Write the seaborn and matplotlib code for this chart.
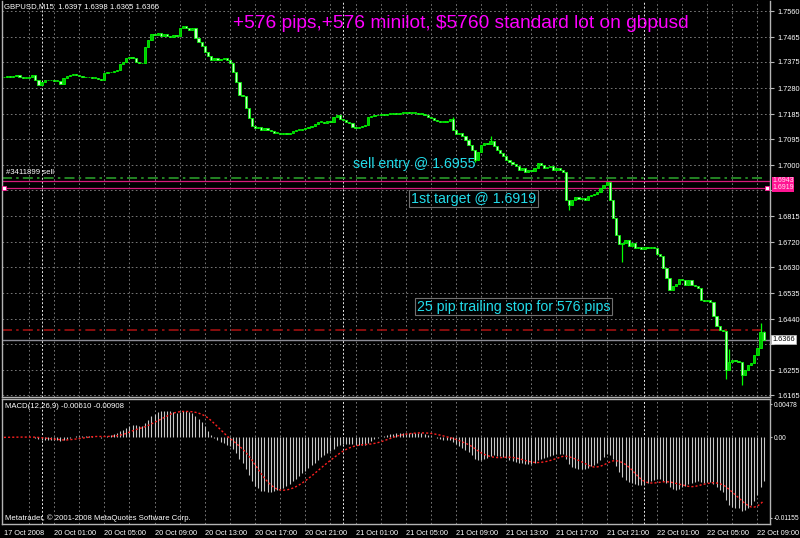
import matplotlib
matplotlib.use("Agg")
import matplotlib.pyplot as plt
import seaborn as sns
import pandas as pd
import numpy as np

# GBPUSD M15 closes, 17 Oct 21:00 .. 22 Oct 09:30
closes = [
    1.7320, 1.7324, 1.7320, 1.7324, 1.7328, 1.7320, 1.7317, 1.7317, 1.7320, 1.7328,
    1.7309, 1.7291, 1.7302, 1.7309, 1.7309, 1.7309, 1.7306, 1.7306, 1.7295, 1.7317,
    1.7324, 1.7328, 1.7331, 1.7328, 1.7324, 1.7320, 1.7320, 1.7320, 1.7317, 1.7317,
    1.7313, 1.7309, 1.7335, 1.7338, 1.7338, 1.7342, 1.7346, 1.7368, 1.7375, 1.7389,
    1.7393, 1.7389, 1.7375, 1.7371, 1.7371, 1.7429, 1.7455, 1.7476, 1.7473, 1.7480,
    1.7469, 1.7476, 1.7469, 1.7466, 1.7473, 1.7469, 1.7498, 1.7506, 1.7498, 1.7491,
    1.7498, 1.7462, 1.7447, 1.7433, 1.7411, 1.7397, 1.7382, 1.7389, 1.7382, 1.7386,
    1.7389, 1.7382, 1.7371, 1.7338, 1.7302, 1.7255, 1.7251, 1.7208, 1.7171, 1.7142,
    1.7135, 1.7139, 1.7128, 1.7135, 1.7128, 1.7124, 1.7117, 1.7117, 1.7113, 1.7117,
    1.7113, 1.7117, 1.7124, 1.7128, 1.7128, 1.7131, 1.7135, 1.7139, 1.7142, 1.7150,
    1.7157, 1.7157, 1.7153, 1.7160, 1.7157, 1.7175, 1.7182, 1.7168, 1.7164, 1.7157,
    1.7153, 1.7139, 1.7135, 1.7139, 1.7142, 1.7146, 1.7175, 1.7179, 1.7182, 1.7182,
    1.7186, 1.7182, 1.7186, 1.7186, 1.7190, 1.7186, 1.7190, 1.7190, 1.7193, 1.7190,
    1.7190, 1.7190, 1.7186, 1.7186, 1.7182, 1.7175, 1.7171, 1.7164, 1.7160, 1.7157,
    1.7157, 1.7160, 1.7168, 1.7128, 1.7113, 1.7117, 1.7106, 1.7091, 1.7073, 1.7055,
    1.7019, 1.7048, 1.7073, 1.7081, 1.7077, 1.7088, 1.7070, 1.7055, 1.7044, 1.7033,
    1.7019, 1.7012, 1.7004, 1.6997, 1.6983, 1.6990, 1.6975, 1.6983, 1.6979, 1.6990,
    1.7008, 1.7001, 1.6990, 1.6993, 1.6997, 1.6983, 1.6990, 1.6983, 1.6975, 1.6874,
    1.6855, 1.6874, 1.6884, 1.6877, 1.6881, 1.6874, 1.6888, 1.6892, 1.6895, 1.6903,
    1.6917, 1.6928, 1.6939, 1.6874, 1.6808, 1.6746, 1.6714, 1.6717, 1.6728, 1.6707,
    1.6717, 1.6699, 1.6703, 1.6696, 1.6703, 1.6699, 1.6703, 1.6699, 1.6677, 1.6670,
    1.6627, 1.6590, 1.6547, 1.6561, 1.6568, 1.6587, 1.6583, 1.6565, 1.6583, 1.6565,
    1.6561, 1.6554, 1.6510, 1.6507, 1.6510, 1.6503, 1.6452, 1.6416, 1.6401, 1.6398,
    1.6256, 1.6285, 1.6292, 1.6289, 1.6285, 1.6238, 1.6256, 1.6274, 1.6282, 1.6311,
    1.6336, 1.6397, 1.6366,
]
# a few visible wicks beyond the bodies
highs_extra = {143: 1.7175, 155: 1.7106, 231: 1.6332, 241: 1.6427}
lows_extra = {150: 1.7012, 180: 1.6837, 197: 1.6648, 230: 1.6224, 235: 1.6202}

price_ticks = [1.7560, 1.7465, 1.7375, 1.7280, 1.7185, 1.7095, 1.7000, 1.6910,
               1.6815, 1.6720, 1.6630, 1.6535, 1.6440, 1.6350, 1.6255, 1.6165]
# these two labels sit behind the price boxes on the right
hidden_ticks = [1.6910, 1.6350]
time_tick_bars = [0, 16, 32, 48, 64, 80, 96, 112, 128, 144, 160, 176, 192, 208, 224, 240]
time_labels = ["17 Oct 2008", "20 Oct 01:00", "20 Oct 05:00", "20 Oct 09:00",
               "20 Oct 13:00", "20 Oct 17:00", "20 Oct 21:00", "21 Oct 01:00",
               "21 Oct 05:00", "21 Oct 09:00", "21 Oct 13:00", "21 Oct 17:00",
               "21 Oct 21:00", "22 Oct 01:00", "22 Oct 05:00", "22 Oct 09:00"]
day_breaks = [12, 108, 204]
macd_ticks = [0.00478, 0.0, -0.01155]
macd_tick_labels = ["0.00478", "0.00", "-0.01155"]

entry_price = 1.6955
order_prices = [1.6943, 1.6919]
stop_price = 1.6403
last_price = 1.6366

sns.set_style("dark", {"axes.facecolor": "black", "figure.facecolor": "black"})
plt.rcParams["font.family"] = ["Liberation Sans", "DejaVu Sans"]

df = pd.DataFrame({"close": closes})
df["open"] = df["close"].shift(1).fillna(df["close"])
df["high"] = df[["open", "close"]].max(axis=1)
df["low"] = df[["open", "close"]].min(axis=1)
for k, v in highs_extra.items():
    df.loc[k, "high"] = v
for k, v in lows_extra.items():
    df.loc[k, "low"] = v
df["bar"] = np.arange(len(df))

# MACD(12,26,9)
ema12 = df["close"].ewm(span=12, adjust=False).mean()
ema26 = df["close"].ewm(span=26, adjust=False).mean()
df["macd"] = ema12 - ema26
df["signal"] = df["macd"].rolling(9, min_periods=1).mean()

fig = plt.figure(figsize=(8, 5.38), dpi=100, facecolor="black")
ax = fig.add_axes([2 / 800, 141 / 538, 768 / 800, 396 / 538])
ax2 = fig.add_axes([2 / 800, 14 / 538, 768 / 800, 125 / 538])
xmin, xmax = -0.6, 244.0
grid_kw = dict(color="#8a8a8a", lw=0.6, ls=(0, (2, 3)))
sep_kw = dict(color="#e8e8e8", lw=0.7, ls=(0, (2, 2)))
lbl = 5.3

for a in (ax, ax2):
    a.set_facecolor("black")
    a.set_xlim(xmin, xmax)
    for b in range(8, 243, 8):
        a.axvline(b, zorder=0.5, **grid_kw)
    for b in day_breaks:
        a.axvline(b, zorder=0.6, **sep_kw)
    for s in a.spines.values():
        s.set_color("#b4b4b4")
        s.set_linewidth(1.0)

# ---- price panel
ax.spines["top"].set_visible(False)
ax.set_ylim(1.61581, 1.75964)
ax.set_yticks(price_ticks)
ax.set_yticklabels(["" if p in hidden_ticks else f"{p:.4f}" for p in price_ticks])
ax.yaxis.tick_right()
ax.tick_params(axis="y", colors="#b4b4b4", labelcolor="white", labelsize=lbl,
               length=3, width=0.8, pad=2)
ax.tick_params(axis="x", bottom=False, labelbottom=False)
ax.grid(axis="y", **grid_kw)
ax.grid(axis="x", visible=False)

bull = df["close"] >= df["open"]
ax.vlines(df["bar"], df["low"], df["high"], color="#00ff00", lw=0.9, zorder=3)
body = np.maximum((df["close"] - df["open"]).abs(), 0.00028)
ax.bar(df["bar"], body, bottom=df[["open", "close"]].min(axis=1) - 0.0001, width=0.72,
       color=np.where(bull, "#00c800", "#c8ffc8"), edgecolor="#00ff00",
       linewidth=0.55, zorder=4)

ax.axhline(entry_price, xmax=0.993, color="#2a9a2a", lw=1.2, ls=(0, (6, 2.5, 1.5, 2.5)), zorder=2)
for p in order_prices:
    ax.axhline(p, color="#d81b7a", lw=0.9, zorder=2)
ax.axhline(stop_price, xmax=0.995, color="#a01010", lw=1.2, ls=(0, (6, 2.5, 1.5, 2.5)), zorder=2)
ax.axhline(last_price, color="#8c8c96", lw=1.0, zorder=2)
ax.plot([0.003, 0.996], [order_prices[1]] * 2, ls="none", marker="s", ms=2.6,
        mfc="white", mec="#ff1493", mew=0.6, transform=ax.get_yaxis_transform(),
        clip_on=False, zorder=6)

ytr = ax.get_yaxis_transform()
for p, dy in zip(order_prices, [0.00012, -0.00010]):
    ax.text(1.003, p + dy, f"{p:.4f}", transform=ytr, ha="left", va="center", size=5.0,
            color="#ffe0f0", clip_on=False, zorder=7,
            bbox=dict(boxstyle="square,pad=0.08", fc="#ff1493", ec="none"))
ax.text(1.003, last_price, f"{last_price:.4f}", transform=ytr, ha="left", va="center",
        size=lbl, color="black", clip_on=False, zorder=7,
        bbox=dict(boxstyle="square,pad=0.15", fc="white", ec="#c0c0c0", lw=0.5))

# ---- MACD panel
ax2.set_ylim(-0.01241, 0.00550)
ax2.vlines(df["bar"], 0, df["macd"], color="#c8c8c8", lw=0.8, zorder=2)
sns.lineplot(x=df["bar"], y=df["signal"], ax=ax2, color="#ff2020", lw=1.0,
             ls=(0, (1.5, 1.5)), zorder=3)
ax2.set_xlabel("")
ax2.set_ylabel("")
ax2.set_yticks(macd_ticks)
ax2.set_yticklabels(macd_tick_labels)
ax2.yaxis.tick_right()
ax2.tick_params(axis="y", colors="#b4b4b4", labelcolor="white", labelsize=4.8,
                length=1.5, width=0.8, pad=1.0)
ax2.set_xticks(time_tick_bars)
ax2.set_xticklabels(time_labels, ha="left")
ax2.tick_params(axis="x", colors="#b4b4b4", labelcolor="white", labelsize=lbl,
                length=3, width=0.8, pad=1.5)
ax2.grid(False)

# ---- texts
small = dict(color="white", size=5.6, va="center")
fig.text(4 / 800, 1 - 7 / 538, "GBPUSD,M15  1.6397 1.6398 1.6365 1.6366", **small)
fig.text(6 / 800, 1 - 173 / 538, "#3411899 sell", **small)
fig.text(5 / 800, 1 - 406 / 538, "MACD(12,26,9) -0.00610 -0.00908", **small)
fig.text(5 / 800, 1 - 518 / 538, "Metatrader, \u00a9 2001-2008 MetaQuotes Software Corp.", **small)

fig.text(233 / 800, 1 - 27.5 / 538, "+576 pips,+576 minilot, $5760 standard lot on gbpusd",
         color="#ff00ff", size=13.8, va="baseline")
cyan = "#22dcea"
fig.text(353 / 800, 1 - 168.3 / 538, "sell entry @ 1.6955", color=cyan, size=10.2, va="baseline")
fig.text(411 / 800, 1 - 202.7 / 538, "1st target @ 1.6919", color=cyan, size=10.2, va="baseline",
         bbox=dict(boxstyle="square,pad=0.12", fc="none", ec="#707070", lw=0.8))
fig.text(417 / 800, 1 - 310.7 / 538, "25 pip trailing stop for 576 pips", color=cyan, size=10.2,
         va="baseline", bbox=dict(boxstyle="square,pad=0.12", fc="none", ec="#707070", lw=0.8))

fig.savefig("out.png", dpi=100, facecolor="black")
